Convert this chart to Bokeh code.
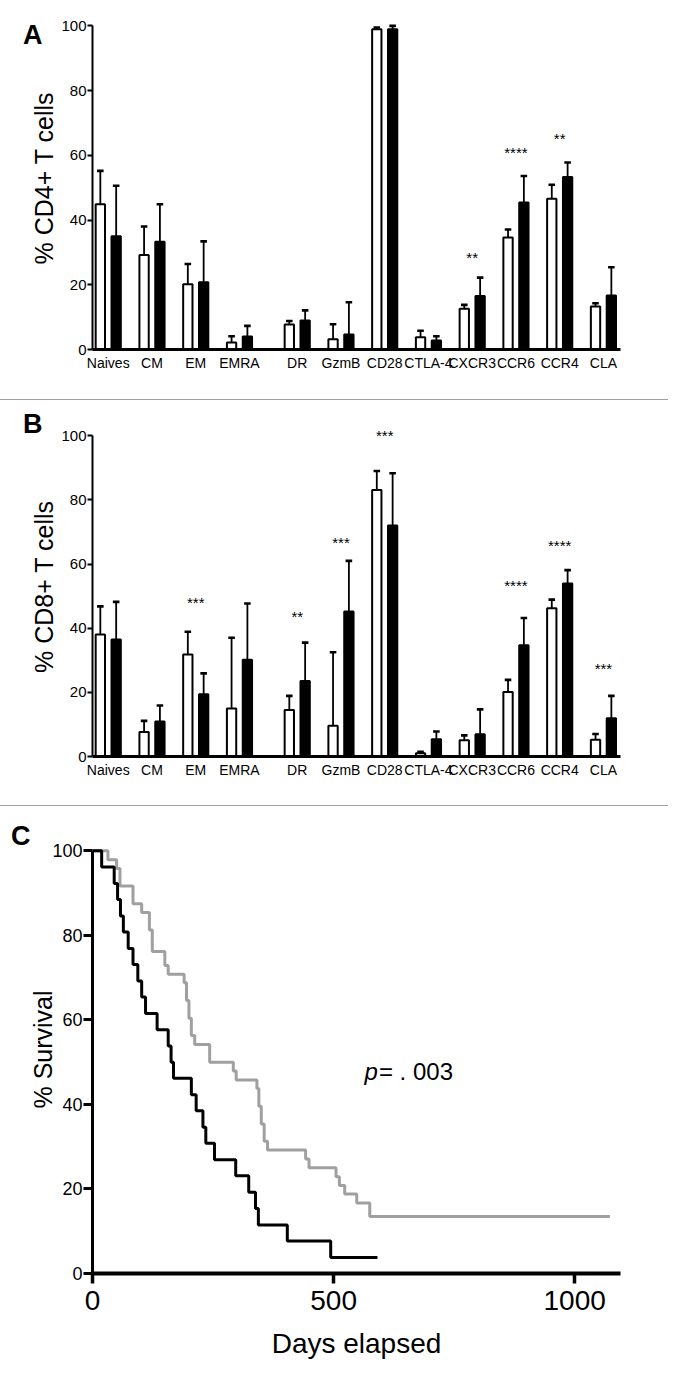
from bokeh.plotting import figure
from bokeh.models import Range1d, FixedTicker, Label, LinearAxis
from bokeh.layouts import column
from bokeh.core.properties import value
from bokeh.embed import file_html
from bokeh.resources import INLINE

# ---------------- data ----------------
categories = ["Naives", "CM", "EM", "EMRA", "DR", "GzmB", "CD28",
              "CTLA-4", "CXCR3", "CCR6", "CCR4", "CLA"]

# Panel A: % CD4+ T cells (white = controls, black = patients)
cd4_ctrl = [44.9, 29.2, 20.2, 2.2, 7.7, 3.2, 99.0, 3.8, 12.6, 34.6, 46.6, 13.3]
cd4_ctrl_err = [10.3, 8.8, 6.2, 1.9, 1.1, 4.6, 0.5, 2.0, 1.2, 2.5, 4.3, 1.0]
cd4_pat = [35.0, 33.3, 20.8, 4.0, 9.0, 4.6, 99.0, 2.8, 16.5, 45.4, 53.3, 16.7]
cd4_pat_err = [15.6, 11.6, 12.6, 3.3, 3.1, 10.0, 1.0, 1.3, 5.7, 8.2, 4.5, 8.7]
cd4_sig_cats = ["CXCR3", "CCR6", "CCR4"]
cd4_sig_marks = ["**", "****", "**"]
cd4_sig_y = [28.5, 60.9, 65.3]

# Panel B: % CD8+ T cells
cd8_ctrl = [38.0, 7.6, 31.8, 15.0, 14.5, 9.6, 83.1, 1.0, 5.1, 20.1, 46.2, 5.2]
cd8_ctrl_err = [8.8, 3.5, 7.1, 22.0, 4.4, 22.9, 5.9, 0.5, 1.5, 3.8, 2.7, 1.8]
cd8_pat = [36.5, 10.9, 19.4, 30.2, 23.5, 45.2, 72.0, 5.4, 6.9, 34.7, 53.9, 11.9]
cd8_pat_err = [11.7, 5.0, 6.5, 17.5, 12.0, 15.8, 16.3, 2.4, 7.8, 8.5, 4.2, 7.0]
cd8_sig_cats = ["EM", "DR", "GzmB", "CD28", "CCR6", "CCR4", "CLA"]
cd8_sig_marks = ["***", "**", "***", "***", "****", "****", "***"]
cd8_sig_y = [48.0, 43.7, 66.8, 100.2, 53.2, 65.8, 27.3]

# Panel C: Kaplan-Meier survival
black_days = [0, 19, 45, 52, 58, 64, 74, 84, 94, 102, 110, 134, 157, 163, 168,
              205, 215, 229, 235, 253, 297, 324, 338, 344, 404, 494, 591]
black_surv = [100, 96.2, 92.3, 88.5, 84.6, 80.8, 76.9, 73.1, 69.2, 65.4, 61.5,
              57.7, 53.8, 50.0, 46.2, 42.3, 38.5, 34.6, 30.8, 26.9, 23.1, 19.2,
              15.4, 11.5, 7.7, 3.8, 3.8]
gray_days = [0, 32, 50, 57, 84, 102, 118, 124, 150, 157, 190, 195, 200, 205, 212,
             243, 292, 298, 341, 345, 350, 356, 363, 442, 449, 505, 512, 523,
             548, 575, 1073]
gray_surv = [100, 97.9, 95.8, 91.7, 87.5, 85.4, 81.3, 76.2, 72.9, 70.8, 68.8,
             64.6, 60.4, 56.3, 54.2, 50.0, 47.9, 45.8, 43.8, 39.6, 35.4, 31.3,
             29.2, 27.1, 25.0, 22.9, 20.8, 18.8, 16.7, 13.5, 13.5]
y_ticks = [0, 20, 40, 60, 80, 100]
day_ticks = [0, 500, 1000]

# ---------------- styling ----------------
W = 668
SANS = "Liberation Sans"
GAP = 0.32          # extra space between subset group and marker group
OFF = 0.181         # dodge of each bar from group centre
BW = 0.213          # bar width
CAP = 0.075         # half width of error cap
GRAY = "#a0a0a0"
SEP = {"border-top": "1px solid #a0a0a0"}

xpos = [i + (GAP if i >= 4 else 0.0) for i in range(len(categories))]
cat_x = dict(zip(categories, xpos))


def letter_axis(p, letter, at, standoff):
    ax = LinearAxis(ticker=FixedTicker(ticks=[at]),
                    major_label_overrides={at: letter})
    ax.axis_line_color = None
    ax.major_tick_line_color = None
    ax.minor_tick_line_color = None
    ax.major_tick_out = 0
    ax.major_tick_in = 0
    ax.major_label_text_font = SANS
    ax.major_label_text_font_size = "27px"
    ax.major_label_text_font_style = "bold"
    ax.major_label_text_color = "black"
    ax.major_label_standoff = standoff
    p.add_layout(ax, "left")


def bar_panel(height, top_border, ctrl, ctrl_err, pat, pat_err,
              sig_cats, sig_marks, sig_y, ylabel, letter, letter_at, styles=None):
    p = figure(width=W, height=height, output_backend="svg", toolbar_location=None,
               x_range=Range1d(-0.36, xpos[-1] + 0.39), y_range=Range1d(0, 106),
               min_border_left=82, min_border_right=19,
               min_border_top=top_border, min_border_bottom=50)
    if styles:
        p.styles = styles
    p.outline_line_color = None
    p.grid.visible = False
    p.background_fill_color = "white"
    p.border_fill_color = "white"

    xc = [x - OFF for x in xpos]
    xp = [x + OFF for x in xpos]
    p.vbar(x=xc, top=ctrl, bottom=0, width=BW, fill_color="white",
           line_color="black", line_width=2)
    p.vbar(x=xp, top=pat, bottom=0, width=BW, fill_color="black",
           line_color="black", line_width=2)

    for xs, m, e in ((xc, ctrl, ctrl_err), (xp, pat, pat_err)):
        tops = [a + b for a, b in zip(m, e)]
        p.segment(x0=xs, y0=m, x1=xs, y1=tops, line_color="black", line_width=1.8)
        p.segment(x0=[x - CAP for x in xs], y0=tops, x1=[x + CAP for x in xs],
                  y1=tops, line_color="black", line_width=2.6)

    p.text(x=[cat_x[c] for c in sig_cats], y=sig_y, text=sig_marks,
           text_font=value(SANS), text_font_size="15px", text_align="center",
           text_baseline="middle", text_color="black")

    ya = p.yaxis[0]
    ya.ticker = FixedTicker(ticks=y_ticks)
    ya.bounds = (0, 100)
    ya.axis_line_width = 2
    ya.major_tick_line_width = 2
    ya.major_tick_out = 5
    ya.major_tick_in = 0
    ya.minor_tick_line_color = None
    ya.major_label_text_font = SANS
    ya.major_label_text_font_size = "15px"
    ya.major_label_text_color = "black"
    ya.major_label_standoff = 1
    ya.axis_label = ylabel
    ya.axis_label_text_font = SANS
    ya.axis_label_text_font_size = "25px"
    ya.axis_label_text_font_style = "normal"
    ya.axis_label_text_color = "black"
    ya.axis_label_standoff = 0

    xa = p.xaxis[0]
    xa.ticker = FixedTicker(ticks=xpos)
    xa.major_label_overrides = {x: c for x, c in zip(xpos, categories)}
    xa.axis_line_width = 3
    xa.major_tick_out = 0
    xa.major_tick_in = 0
    xa.minor_tick_line_color = None
    xa.major_label_text_font = SANS
    xa.major_label_text_font_size = "14px"
    xa.major_label_text_color = "black"
    xa.major_label_standoff = 5

    letter_axis(p, letter, letter_at, -15)
    return p


pA = bar_panel(399, 6, cd4_ctrl, cd4_ctrl_err, cd4_pat, cd4_pat_err,
               cd4_sig_cats, cd4_sig_marks, cd4_sig_y, "% CD4+ T cells", "A", 97.2)
pB = bar_panel(406, 16, cd8_ctrl, cd8_ctrl_err, cd8_pat, cd8_pat_err,
               cd8_sig_cats, cd8_sig_marks, cd8_sig_y, "% CD8+ T cells", "B", 103.8,
               styles=SEP)

# ---------------- panel C ----------------
pC = figure(width=W, height=557, output_backend="svg", toolbar_location=None,
            x_range=Range1d(0, 1095), y_range=Range1d(0, 106),
            min_border_left=92, min_border_right=48, min_border_top=19,
            min_border_bottom=90)
pC.styles = SEP
pC.outline_line_color = None
pC.grid.visible = False
pC.step(x=gray_days, y=gray_surv, mode="after", line_color=GRAY, line_width=3)
pC.step(x=black_days, y=black_surv, mode="after", line_color="black", line_width=3)

xa = pC.xaxis[0]
xa.ticker = FixedTicker(ticks=day_ticks)
xa.axis_line_width = 4
xa.major_tick_line_width = 3.5
xa.major_tick_out = 10
xa.major_tick_in = 0
xa.minor_tick_line_color = None
xa.major_label_text_font = SANS
xa.major_label_text_font_size = "28px"
xa.major_label_text_color = "black"
xa.major_label_standoff = 7
xa.axis_label = "Days elapsed"
xa.axis_label_text_font = SANS
xa.axis_label_text_font_size = "28px"
xa.axis_label_text_font_style = "normal"
xa.axis_label_text_color = "black"
xa.axis_label_standoff = 15

ya = pC.yaxis[0]
ya.ticker = FixedTicker(ticks=y_ticks)
ya.bounds = (0, 100)
ya.axis_line_width = 3
ya.major_tick_line_width = 3
ya.major_tick_out = 9
ya.major_tick_in = 0
ya.minor_tick_line_color = None
ya.major_label_text_font = SANS
ya.major_label_text_font_size = "18px"
ya.major_label_text_color = "black"
ya.major_label_standoff = 1
ya.axis_label = "% Survival"
ya.axis_label_text_font = SANS
ya.axis_label_text_font_size = "25px"
ya.axis_label_text_font_style = "normal"
ya.axis_label_text_color = "black"
ya.axis_label_standoff = -8

letter_axis(pC, "C", 103.4, -4)

pC.add_layout(Label(x=564, y=47.8, text="p", text_font=SANS, text_font_size="24px",
                    text_font_style="italic", text_color="black", text_align="left",
                    text_baseline="alphabetic"))
pC.add_layout(Label(x=594, y=47.8, text="= . 003", text_font=SANS,
                    text_font_size="24px", text_color="black", text_align="left",
                    text_baseline="alphabetic"))

layout = column(pA, pB, pC, spacing=0)

open("out.html", "w").write(file_html(layout, INLINE))
